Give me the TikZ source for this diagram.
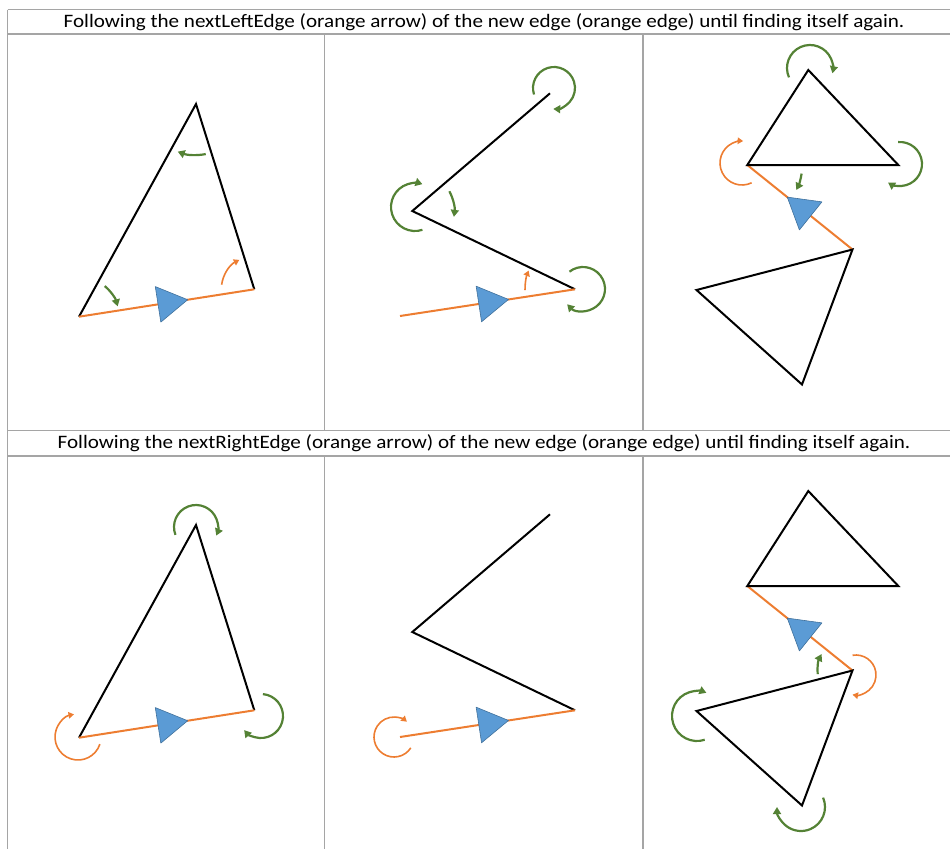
\documentclass[tikz,border=0pt]{standalone}
\usepackage{fontspec}
\setmainfont{Carlito}
\usetikzlibrary{arrows.meta,calc}
\definecolor{gridgray}{HTML}{A5A5A5}
\definecolor{edgeorange}{HTML}{ED7D31}
\definecolor{turngreen}{HTML}{548235}
\definecolor{markblue}{HTML}{5B9BD5}
\definecolor{markline}{HTML}{41719C}
\tikzset{
  grid line/.style={gridgray, line width=1.6pt},
  old edge/.style={black, line width=2pt},
  new edge/.style={edgeorange, line width=2pt},
  green turn/.style={turngreen, line width=2.2pt, -{Triangle[length=7pt,width=8pt]}},
  orange turn/.style={edgeorange, line width=1.6pt, -{Triangle[length=5.5pt,width=6.5pt]}},
  dir mark/.style={fill=markblue, draw=markline, line width=0.6pt, line join=round},
  head text/.style={font=\fontsize{19}{22}\selectfont, xscale=1.11, inner sep=0pt},
}
% turn arrow: style, centre, radius, start angle, end angle
\newcommand\turn[5]{\draw[#1] ($(#2)+(#4:#3)$) arc[start angle=#4, end angle=#5, radius=#3];}
% blue direction mark on the edge from #1 to #2
\newcommand\dirmark[2]{%
  \coordinate (tip) at ($(#1)!0.62!(#2)$);
  \coordinate (base) at ($(tip)!30pt!(#1)$);
  \filldraw[dir mark] (tip) -- ($(base)!18pt!90:(tip)$) -- ($(base)!18pt!-90:(tip)$) -- cycle;}
% the three panels of one row
\newcommand\rowshapes{%
  % left panel
  \coordinate (T1) at (196,-104);
  \coordinate (L1) at (79,-316.7);
  \coordinate (R1) at (254.3,-289.3);
  \draw[old edge] (L1) -- (T1) -- (R1);
  \draw[new edge] (L1) -- (R1);
  \dirmark{L1}{R1}
  % middle panel
  \coordinate (P2) at (550,-93.3);
  \coordinate (Q2) at (412.3,-211);
  \coordinate (R2) at (575,-289.3);
  \coordinate (S2) at (400,-316);
  \draw[old edge] (P2) -- (Q2) -- (R2);
  \draw[new edge] (S2) -- (R2);
  \dirmark{S2}{R2}
  % right panel
  \coordinate (A3) at (808.3,-70);
  \coordinate (B3) at (747.3,-165);
  \coordinate (C3) at (898.3,-165);
  \coordinate (D3) at (852.5,-249.5);
  \coordinate (E3) at (696.5,-290);
  \coordinate (F3) at (802,-384.5);
  \draw[new edge] (B3) -- (D3);
  \draw[old edge] (A3) -- (B3) -- (C3) -- cycle;
  \draw[old edge] (D3) -- (E3) -- (F3) -- cycle;
  \dirmark{D3}{B3}
}
\begin{document}
\begin{tikzpicture}[x=1pt,y=1pt]
  \useasboundingbox (0,0) rectangle (950,-849);
  % table
  \foreach \y in {9.5,34,430.5,456}
    \draw[grid line] (7.5,-\y) -- (950,-\y);
  \draw[grid line] (7.5,-9.5) -- (7.5,-849);
  \foreach \x in {324.3,642.7} {
    \draw[grid line] (\x,-34) -- (\x,-430.5);
    \draw[grid line] (\x,-456) -- (\x,-849);
  }
  \node[head text] (head1) at (484,-22) {Following the nextLeftEdge (orange arrow) of the new edge (orange edge) until finding itself again.};
  \node[head text] (head2) at (484,-443) {Following the nextRightEdge (orange arrow) of the new edge (orange edge) until finding itself again.};
  % upper row: nextLeftEdge
  \rowshapes
  \turn{green turn}{T1}{51}{-79}{-111}
  \turn{green turn}{L1}{40}{50}{15}
  \turn{orange turn}{R1}{33}{172}{117}
  \turn{green turn}{554,-88}{21}{198}{-92}
  \turn{green turn}{415,-207}{24}{288}{72}
  \turn{green turn}{Q2}{42}{28}{-8}
  \turn{orange turn}{R2}{50}{181}{158}
  \turn{green turn}{583,-289}{22}{128}{-136}
  \turn{green turn}{810,-68}{23}{204}{-13}
  \turn{orange turn}{742,-163}{22}{296}{87}
  \turn{green turn}{900,-164}{22}{95}{-123}
  \turn{green turn}{B3}{55}{-9}{-27}
  % lower row: nextRightEdge
  \begin{scope}[yshift=-421pt]
    \rowshapes
    \turn{green turn}{196,-106}{22}{201}{-23}
    \turn{green turn}{261,-295}{22}{85}{-140}
    \turn{orange turn}{78,-316}{23}{-18}{-260}
    \turn{orange turn}{394,-316}{20}{-33}{-310}
    \turn{green turn}{D3}{35}{186}{152}
    \turn{orange turn}{856,-254}{20}{100}{-100}
    \turn{green turn}{697,-295}{25}{288}{68}
    \turn{green turn}{801,-386}{24}{23}{-180}
  \end{scope}
\end{tikzpicture}
\end{document}
